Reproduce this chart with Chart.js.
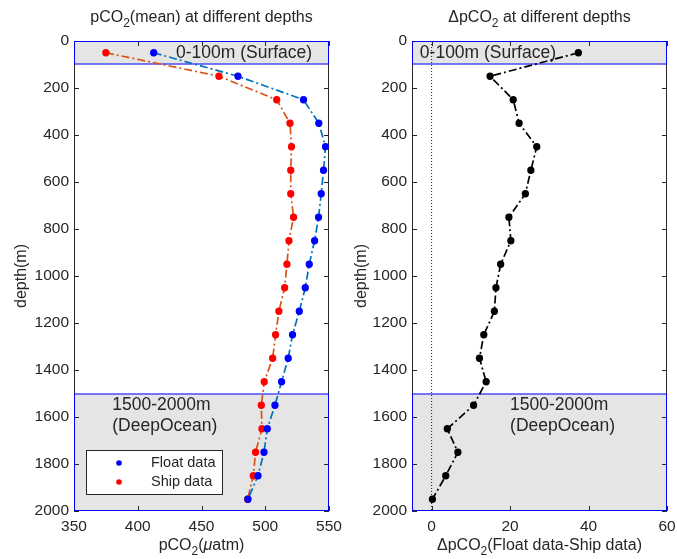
<!DOCTYPE html>
<html>
<head>
<meta charset="utf-8">
<script src="https://cdn.jsdelivr.net/npm/chart.js@4.4.0/dist/chart.umd.min.js"></script>
<style>
  body { margin: 0; background: #fff; }
  #wrap { position: relative; width: 677px; height: 559px; }
  canvas { position: absolute; top: 0; }
</style>
</head>
<body>
<div id="wrap">
  <canvas id="left" width="360" height="559" style="left:0"></canvas>
  <canvas id="right" width="337" height="559" style="left:340px"></canvas>
</div>
<script>
// data
const depths = [50, 150, 250, 350, 450, 550, 650, 750, 850, 950, 1050, 1150, 1250, 1350, 1450, 1550, 1650, 1750, 1850, 1950];
const floatPco2 = [412.5, 478.6, 530.0, 542.0, 547.3, 545.7, 543.9, 541.8, 538.7, 534.5, 531.4, 526.7, 521.4, 518.0, 512.8, 507.6, 501.6, 499.0, 494.3, 486.4];
const shipPco2 = [375.0, 463.7, 509.0, 519.4, 520.6, 520.0, 520.0, 522.2, 518.6, 517.0, 515.2, 510.7, 508.1, 505.8, 499.2, 496.9, 497.4, 492.4, 490.6, 486.2];
const deltaPco2 = [37.4, 14.9, 20.8, 22.3, 26.8, 25.3, 23.9, 19.7, 20.2, 17.6, 16.4, 16.0, 13.3, 12.2, 13.9, 10.7, 4.0, 6.7, 3.6, 0.2];
const xTicksLeft = [350, 400, 450, 500, 550];
const xTicksRight = [0, 20, 40, 60];
const yTicks = [0, 200, 400, 600, 800, 1000, 1200, 1400, 1600, 1800, 2000];
const surfaceZone = [0, 100];
const deepZone = [1500, 2000];

const FONT = '"Liberation Sans", Arial, Helvetica, sans-serif';
const INK = '#262626';
const DASHDOT = [8, 3, 2, 3];

const pts = vals => depths.map((d, i) => ({x: vals[i], y: d}));

// text with subscripts / italic pieces
function drawRich(ctx, segs, x, y, size, align) {
    const fontOf = s => (s.it ? 'italic ' : '') + (s.sub ? size * 0.75 : size) + 'px ' + FONT;
    let w = 0;
    segs.forEach(s => { ctx.font = fontOf(s); w += ctx.measureText(s.t).width; });
    let cx = align === 'center' ? x - w / 2 : x;
    ctx.textAlign = 'left';
    ctx.textBaseline = 'middle';
    ctx.fillStyle = INK;
    segs.forEach(s => {
        ctx.font = fontOf(s);
        ctx.fillText(s.t, cx, s.sub ? y + size * 0.35 : y);
        cx += ctx.measureText(s.t).width;
    });
}

const decor = {
    id: 'decor',
    beforeDatasetsDraw(chart, args, o) {
        const {ctx, chartArea: a, scales: {x, y}} = chart;
        ctx.save();
        const zones = [surfaceZone, deepZone].map(z => [y.getPixelForValue(z[0]), y.getPixelForValue(z[1])]);
        ctx.fillStyle = '#e5e5e5';
        zones.forEach(z => ctx.fillRect(a.left, z[0], a.right - a.left, z[1] - z[0]));
        // axes box
        ctx.strokeStyle = INK;
        ctx.lineWidth = 1;
        ctx.strokeRect(a.left + 0.5, a.top + 0.5, a.right - a.left - 1, a.bottom - a.top - 1);
        // inward ticks on all four sides
        ctx.beginPath();
        yTicks.forEach(v => {
            const p = Math.round(y.getPixelForValue(v)) + 0.5;
            ctx.moveTo(a.left, p); ctx.lineTo(a.left + 5, p);
            ctx.moveTo(a.right, p); ctx.lineTo(a.right - 5, p);
        });
        o.xTicks.forEach(v => {
            const p = Math.round(x.getPixelForValue(v)) + 0.5;
            ctx.moveTo(p, a.top); ctx.lineTo(p, a.top + 5);
            ctx.moveTo(p, a.bottom); ctx.lineTo(p, a.bottom - 5);
        });
        ctx.stroke();
        ctx.strokeStyle = '#0000ff';
        zones.forEach(z => ctx.strokeRect(a.left + 0.5, z[0] + 0.5, a.right - a.left - 1, z[1] - z[0] - 1));
        // zone labels
        o.notes.forEach(n => {
            const px = x.getPixelForValue(n.x), py = y.getPixelForValue(n.y);
            n.lines.forEach((l, i) => drawRich(ctx, [{t: l}], px, py + i * 21, 17.5, 'left'));
        });
        ctx.restore();
    },
    afterDraw(chart, args, o) {
        const {ctx, chartArea: a} = chart;
        ctx.save();
        const cx = (a.left + a.right) / 2;
        drawRich(ctx, o.title, cx, 18, 16, 'center');
        drawRich(ctx, o.xTitle, cx, 546, 16, 'center');
        ctx.translate(22, (a.top + a.bottom) / 2);
        ctx.rotate(-Math.PI / 2);
        drawRich(ctx, [{t: 'depth(m)'}], 0, 0, 16, 'center');
        ctx.restore();
        if (o.legend) {
            ctx.save();
            const lx = a.left + 12, ly = a.bottom - 61;
            ctx.fillStyle = '#fff';
            ctx.fillRect(lx, ly, 136, 44);
            ctx.strokeStyle = INK;
            ctx.lineWidth = 1;
            ctx.strokeRect(lx + 0.5, ly + 0.5, 136, 44);
            chart.data.datasets.forEach((ds, i) => {
                const yy = ly + 13 + i * 19;
                ctx.fillStyle = ds.pointBackgroundColor;
                ctx.beginPath();
                ctx.arc(lx + 33, yy, 2.8, 0, Math.PI * 2);
                ctx.fill();
                drawRich(ctx, [{t: ds.label}], lx + 65, yy, 14.5, 'left');
            });
            ctx.restore();
        }
    }
};

function makeChart(id, datasets, xMin, xMax, xTicks, yWidth, rightPad, extra) {
    return new Chart(document.getElementById(id), {
        type: 'scatter',
        data: {datasets: datasets},
        options: {
            responsive: false,
            animation: false,
            layout: {padding: {top: 41, right: rightPad, left: 0, bottom: 0}},
            plugins: {
                legend: {display: false},
                tooltip: {enabled: false},
                decor: Object.assign({xTicks: xTicks}, extra)
            },
            scales: {
                x: {
                    type: 'linear',
                    min: xMin,
                    max: xMax,
                    grid: {display: false, drawTicks: false},
                    border: {display: false},
                    afterBuildTicks: s => { s.ticks = xTicks.map(v => ({value: v})); },
                    afterFit: s => { s.height = 48; s.paddingLeft = 0; s.paddingRight = 0; },
                    ticks: {autoSkip: false, maxRotation: 0, padding: 6, color: INK,
                            font: {family: FONT, size: 15.5}, callback: v => String(v)}
                },
                y: {
                    type: 'linear',
                    reverse: true,
                    min: 0,
                    max: 2000,
                    grid: {display: false, drawTicks: false},
                    border: {display: false},
                    afterBuildTicks: s => { s.ticks = yTicks.map(v => ({value: v})); },
                    afterFit: s => { s.width = yWidth; s.paddingTop = 0; s.paddingBottom = 0; },
                    ticks: {autoSkip: false, padding: 5, color: INK,
                            font: {family: FONT, size: 15.5}, callback: v => String(v)}
                }
            }
        },
        plugins: [decor]
    });
}

const line = (label, vals, lineColor, dotColor) => ({
    label: label,
    data: pts(vals),
    showLine: true,
    borderColor: lineColor,
    borderWidth: 1.7,
    borderDash: DASHDOT,
    pointBackgroundColor: dotColor,
    pointBorderColor: dotColor,
    pointRadius: 2.8,
    pointHoverRadius: 2.8
});

makeChart('left', [
    line('Float data', floatPco2, '#0072BD', '#0000ff'),
    line('Ship data', shipPco2, '#D95319', '#ff0000')
], 350, 550, xTicksLeft, 74, 31, {
    legend: true,
    title: [{t: 'pCO'}, {t: '2', sub: true}, {t: '(mean) at different depths'}],
    xTitle: [{t: 'pCO'}, {t: '2', sub: true}, {t: '('}, {t: 'μ', it: true}, {t: 'atm)'}],
    notes: [
        {x: 430, y: 50, lines: ['0-100m (Surface)']},
        {x: 380, y: 1550, lines: ['1500-2000m', '(DeepOcean)']}
    ]
});

makeChart('right', [
    {
        label: 'zero',
        data: [{x: 0, y: 0}, {x: 0, y: 2000}],
        showLine: true,
        borderColor: '#0000ff',
        borderWidth: 1,
        borderDash: [1, 2],
        pointRadius: 0
    },
    line('delta', deltaPco2, '#000000', '#000000')
], -5, 60, xTicksRight, 72, 10, {
    legend: false,
    title: [{t: 'ΔpCO'}, {t: '2', sub: true}, {t: ' at different depths'}],
    xTitle: [{t: 'ΔpCO'}, {t: '2', sub: true}, {t: '(Float data-Ship data)'}],
    notes: [
        {x: -3, y: 50, lines: ['0-100m (Surface)']},
        {x: 20, y: 1550, lines: ['1500-2000m', '(DeepOcean)']}
    ]
});
</script>
</body>
</html>
